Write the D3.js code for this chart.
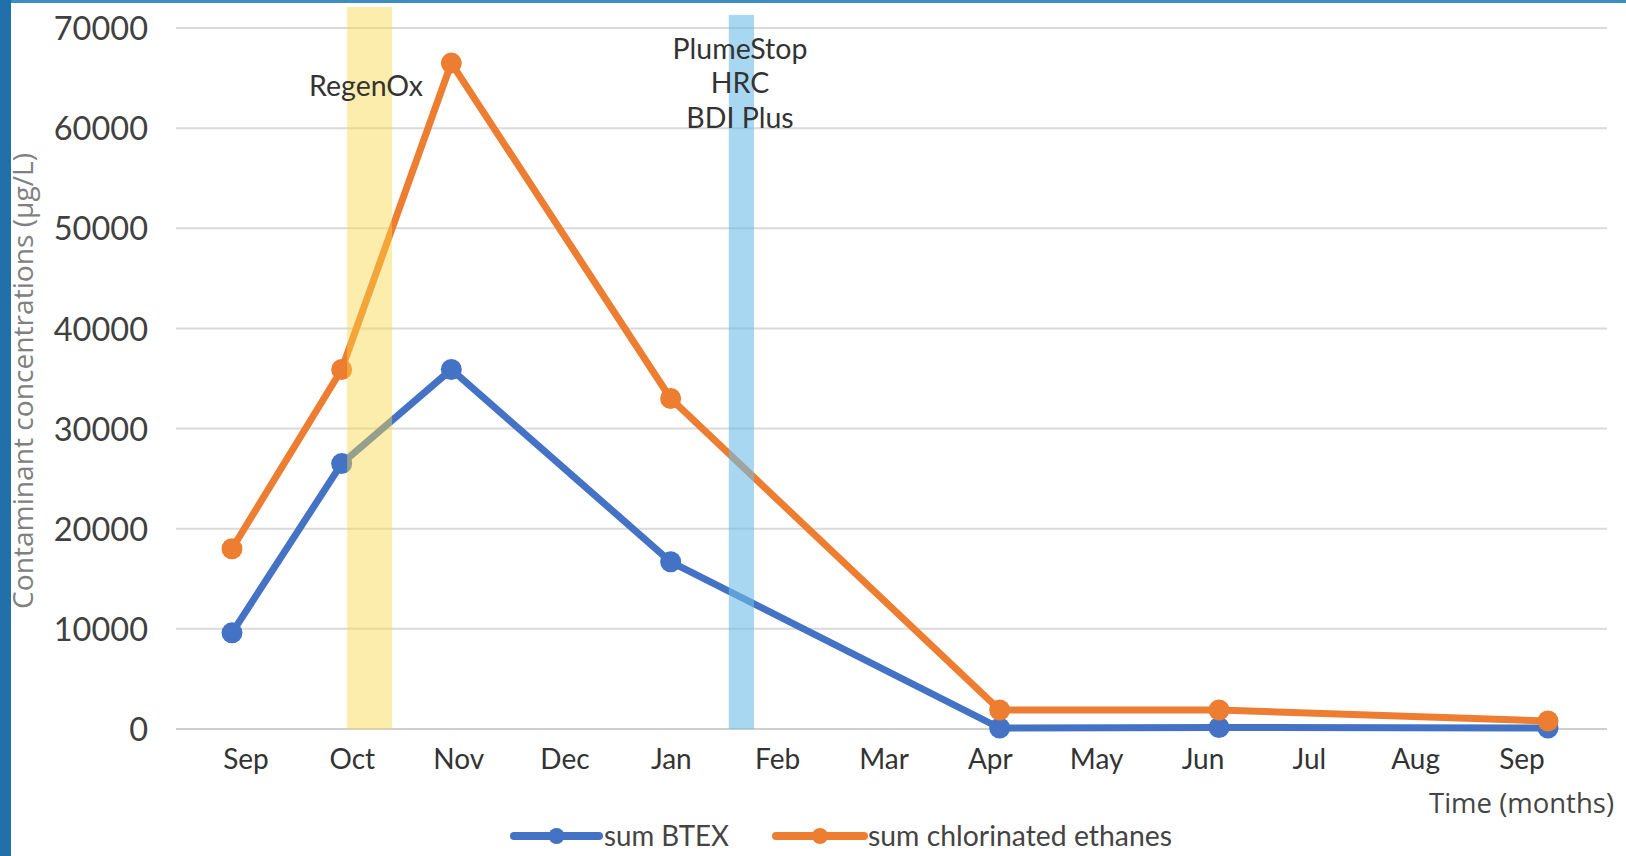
<!DOCTYPE html>
<html>
<head>
<meta charset="utf-8">
<script src="https://cdn.jsdelivr.net/npm/d3@7"></script>
<style>
  html, body { margin: 0; padding: 0; background: #fff; }
  svg { display: block; }
</style>
</head>
<body>
<svg id="chart" width="1626" height="856"></svg>
<script>
// Month labels along the time axis (Sep of year 1 through Sep of year 2)
const monthLabels = ["Sep", "Oct", "Nov", "Dec", "Jan", "Feb", "Mar", "Apr", "May", "Jun", "Jul", "Aug", "Sep"];
// Sampling times, in months after the first sampling round
const sampleMonths = [0, 1, 2, 4, 7, 9, 12];
// Concentrations (µg/L)
const sumBTEX = [9600, 26500, 35900, 16700, 100, 150, 100];
const sumChlorinatedEthanes = [18000, 35900, 66500, 33000, 1900, 1900, 800];
// Y axis ticks
const yTicks = [0, 10000, 20000, 30000, 40000, 50000, 60000, 70000];
// Injection events (start/end in months)
const regenOx = { lines: ["RegenOx"], start: 1.05, end: 1.46, top: 72100 };
const plumeStop = { lines: ["PlumeStop", "HRC", "BDI Plus"], start: 4.53, end: 4.76, top: 71300 };

const svg = d3.select("#chart");
const W = 1626, H = 856;

const x = d3.scaleLinear().domain([0, 12]).range([232, 1548]);
const xLabel = d3.scalePoint().domain(d3.range(monthLabels.length)).range([246, 1522]);
const y = d3.scaleLinear().domain([0, 70000]).range([729, 28]);

// frame strips
svg.append("rect").attr("x", 0).attr("y", 0).attr("width", W).attr("height", 3).attr("fill", "#3b8dc2");
svg.append("rect").attr("x", 0).attr("y", 0).attr("width", 11).attr("height", H).attr("fill", "#2170aa");

// gridlines
const grid = svg.append("g");
grid.selectAll("line").data(yTicks).join("line")
  .attr("x1", 176).attr("x2", 1607)
  .attr("y1", d => y(d)).attr("y2", d => y(d))
  .attr("stroke", d => d === 0 ? "#cfcfcf" : "#dadada")
  .attr("stroke-width", 2);

// y axis labels
const yAxis = d3.axisLeft(y).tickValues(yTicks).tickFormat(d3.format("d")).tickSize(0).tickPadding(0);
const gy = svg.append("g").attr("transform", "translate(148,0)").call(yAxis);
gy.select(".domain").remove();
gy.selectAll("text")
  .attr("font-family", "Lato, sans-serif").attr("font-size", 32.5)
  .attr("fill", "#404040").attr("dy", "0.36em");

// x axis labels
const gx = svg.append("g").attr("transform", "translate(0,759)");
gx.selectAll("text").data(monthLabels).join("text")
  .attr("x", (d, i) => xLabel(i))
  .attr("y", 0).attr("dy", "0.36em")
  .attr("text-anchor", "middle")
  .attr("font-family", "Lato, sans-serif").attr("font-size", 28)
  .attr("fill", "#333")
  .text(d => d);

// series
const series = [
  { name: "sum BTEX", values: sumBTEX, color: "#4472c4" },
  { name: "sum chlorinated ethanes", values: sumChlorinatedEthanes, color: "#ed7d31" }
];
const line = d3.line().x(d => x(d[0])).y(d => y(d[1]));
series.forEach(s => {
  const pts = sampleMonths.map((m, i) => [m, s.values[i]]);
  const g = svg.append("g");
  g.append("path").attr("d", line(pts))
    .attr("fill", "none").attr("stroke", s.color)
    .attr("stroke-width", 7).attr("stroke-linejoin", "round");
  g.selectAll("circle").data(pts).join("circle")
    .attr("cx", d => x(d[0])).attr("cy", d => y(d[1]))
    .attr("r", 10.5).attr("fill", s.color);
});

// injection bands, drawn translucent over the lines
svg.append("rect")
  .attr("x", x(regenOx.start)).attr("width", x(regenOx.end) - x(regenOx.start))
  .attr("y", y(regenOx.top)).attr("height", y(0) - y(regenOx.top))
  .attr("fill", "rgb(250,215,70)").attr("fill-opacity", 0.45);
svg.append("rect")
  .attr("x", x(plumeStop.start)).attr("width", x(plumeStop.end) - x(plumeStop.start))
  .attr("y", y(plumeStop.top)).attr("height", y(0) - y(plumeStop.top))
  .attr("fill", "rgb(110,190,232)").attr("fill-opacity", 0.6);

// event labels
function eventLabel(ev, cx, cy0) {
  svg.append("g").selectAll("text").data(ev.lines).join("text")
    .attr("x", cx).attr("y", (d, i) => cy0 + i * 34.5).attr("dy", "0.36em")
    .attr("text-anchor", "middle")
    .attr("font-family", "Lato, sans-serif").attr("font-size", 28.5)
    .attr("fill", "#333")
    .text(d => d);
}
eventLabel(regenOx, 366, 86);
eventLabel(plumeStop, 740, 48.5);

// axis titles
svg.append("text")
  .attr("transform", "translate(23,381) rotate(-90)")
  .attr("text-anchor", "middle").attr("dy", "0.36em")
  .attr("font-family", "'Open Sans', sans-serif").attr("font-size", 27)
  .attr("textLength", 456).attr("lengthAdjust", "spacingAndGlyphs")
  .attr("fill", "#808080")
  .text("Contaminant concentrations (µg/L)");
svg.append("text")
  .attr("x", 1614).attr("y", 803).attr("dy", "0.36em")
  .attr("text-anchor", "end")
  .attr("font-family", "'Open Sans', sans-serif").attr("font-size", 27.5)
  .attr("fill", "#444")
  .text("Time (months)");

// legend
const legendItems = [
  { s: series[0], x0: 514, x1: 599, tx: 604, tw: 125 },
  { s: series[1], x0: 776, x1: 864, tx: 868, tw: 304 }
];
const lg = svg.append("g").attr("transform", "translate(0,836)");
legendItems.forEach(it => {
  lg.append("line").attr("x1", it.x0).attr("x2", it.x1).attr("y1", 0).attr("y2", 0)
    .attr("stroke", it.s.color).attr("stroke-width", 8).attr("stroke-linecap", "round");
  lg.append("circle").attr("cx", (it.x0 + it.x1) / 2).attr("cy", 0).attr("r", 8).attr("fill", it.s.color);
  lg.append("text").attr("x", it.tx).attr("y", 0).attr("dy", "0.36em")
    .attr("font-family", "Lato, sans-serif").attr("font-size", 28)
    .attr("textLength", it.tw).attr("lengthAdjust", "spacingAndGlyphs")
    .attr("fill", "#444")
    .text(it.s.name);
});
</script>
</body>
</html>
